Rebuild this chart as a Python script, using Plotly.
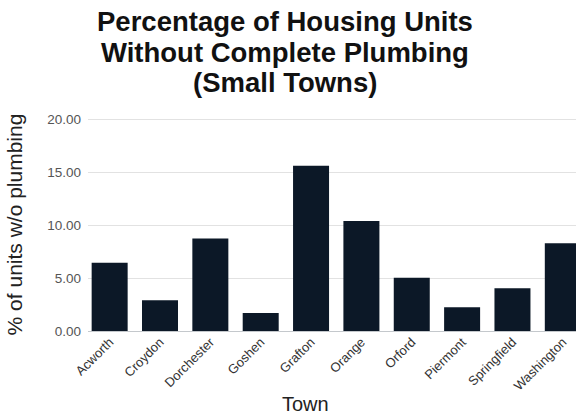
import plotly.graph_objects as go

# Share of housing units lacking complete plumbing, by town
towns = ["Acworth", "Croydon", "Dorchester", "Goshen", "Grafton",
         "Orange", "Orford", "Piermont", "Springfield", "Washington"]
pct_without_plumbing = [6.44, 2.90, 8.72, 1.70, 15.60,
                        10.38, 5.03, 2.24, 4.03, 8.27]
y_ticks = [0, 5, 10, 15, 20]
y_tick_labels = ["0.00", "5.00", "10.00", "15.00", "20.00"]
title_lines = ["Percentage of Housing Units",
               "Without Complete Plumbing",
               "(Small Towns)"]

BAR_COLOR = "#0c1827"
FONT = "Liberation Sans, Arial, sans-serif"
W, H = 576, 419

fig = go.Figure(
    go.Bar(
        x=towns,
        y=pct_without_plumbing,
        marker=dict(color=BAR_COLOR, line=dict(width=0)),
    )
)

# Three-line bold heading, each line placed on its own baseline
annotations = []
for i, line in enumerate(title_lines):
    annotations.append(dict(
        text=f"<b>{line}</b>",
        xref="paper", yref="paper",
        x=(285 - 88) / (W - 88),
        y=1 + (118 - (22 + 30 * i)) / (H - 118 - 88),
        xanchor="center", yanchor="middle",
        showarrow=False,
        font=dict(family=FONT, size=27.5, color="#111111"),
    ))

# Horizontal axis title
annotations.append(dict(
    text="Town",
    xref="paper", yref="paper",
    x=(305 - 88) / (W - 88),
    y=-(404 - (H - 88)) / (H - 118 - 88),
    xanchor="center", yanchor="middle",
    showarrow=False,
    font=dict(family=FONT, size=20, color="#222222"),
))

fig.update_layout(
    width=W,
    height=H,
    margin=dict(l=88, r=0, t=118, b=88, autoexpand=False),
    paper_bgcolor="white",
    plot_bgcolor="white",
    bargap=0.285,
    showlegend=False,
    font=dict(family=FONT, color="#222222"),
    annotations=annotations,
    xaxis=dict(
        type="category",
        range=[-0.43, 9.262],
        tickangle=-45,
        tickfont=dict(size=13, color="#333333"),
        showgrid=False,
        showline=False,
        ticks="",
        automargin=False,
    ),
    yaxis=dict(
        range=[0, 20.1],
        tickvals=y_ticks,
        ticktext=y_tick_labels,
        tickfont=dict(size=13.5, color="#555555"),
        showgrid=True,
        gridcolor="#e2e2e2",
        gridwidth=1,
        zeroline=True,
        zerolinecolor="#c4c8cc",
        zerolinewidth=1,
        showline=False,
        ticks="",
        ticklabelstandoff=6,
        automargin=False,
        title=dict(text="% of units w/o plumbing", font=dict(size=21, color="#222222"), standoff=18),
    ),
)

fig.write_html("out.html")
